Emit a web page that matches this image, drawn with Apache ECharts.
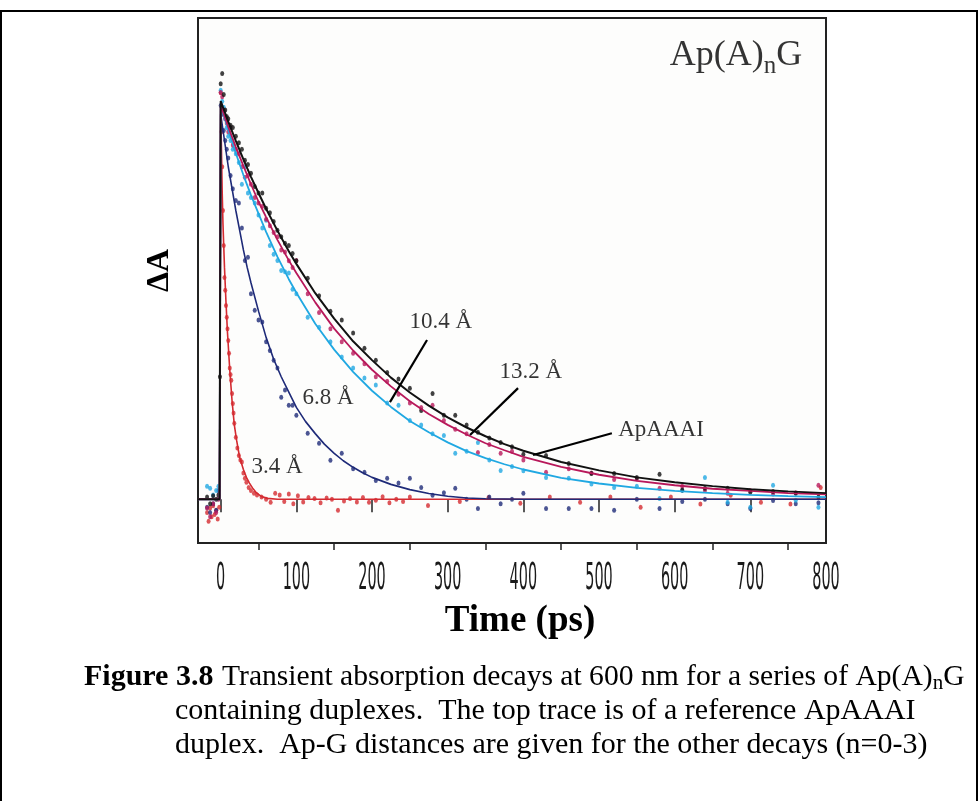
<!DOCTYPE html>
<html><head><meta charset="utf-8">
<script src="https://cdn.jsdelivr.net/npm/echarts@6/dist/echarts.min.js"></script>
<style>html,body{margin:0;padding:0;background:#fff}#c{width:979px;height:801px}</style>
</head><body><div id="c"></div>
<script>
// ---------- data (time in ps, ΔA in relative units) ----------
const xTickLabels = [0,100,200,300,400,500,600,700,800];
const minorTicks = [50,150,250,350,450,550,650,750];

const blackFit = [[-30,0],[-1.5,0],[0,0.91],[10,0.863],[20,0.819],[30,0.777],[40,0.737],[50,0.70],[60,0.664],[75,0.614],[90,0.567],[100,0.538],[125,0.471],[150,0.413],[175,0.361],[200,0.318],[225,0.278],[250,0.244],[275,0.214],[300,0.187],[325,0.164],[350,0.144],[375,0.126],[400,0.111],[450,0.085],[500,0.066],[550,0.050],[600,0.039],[650,0.030],[700,0.023],[750,0.018],[800,0.014]];
const magentaFit = [[-30,0],[-1.5,0],[0,0.90],[10,0.851],[20,0.805],[30,0.762],[40,0.72],[50,0.68],[60,0.645],[75,0.593],[90,0.546],[100,0.517],[125,0.45],[150,0.39],[175,0.34],[200,0.296],[225,0.258],[250,0.224],[275,0.195],[300,0.17],[325,0.148],[350,0.128],[375,0.112],[400,0.097],[450,0.074],[500,0.056],[550,0.042],[600,0.032],[650,0.024],[700,0.019],[750,0.014],[800,0.011]];
const cyanFit = [[-30,0],[-1.5,0],[0,0.90],[10,0.844],[20,0.791],[30,0.741],[40,0.695],[50,0.653],[60,0.611],[75,0.554],[90,0.503],[100,0.472],[125,0.401],[150,0.342],[175,0.291],[200,0.248],[225,0.211],[250,0.179],[275,0.153],[300,0.13],[325,0.11],[350,0.094],[375,0.08],[400,0.068],[450,0.049],[500,0.036],[550,0.026],[600,0.019],[650,0.014],[700,0.01],[750,0.007],[800,0.005]];
const navyFit = [[-30,0],[-1.5,0],[0,0.88],[5,0.82],[10,0.76],[15,0.71],[20,0.66],[25,0.615],[30,0.57],[35,0.53],[40,0.495],[50,0.43],[60,0.37],[70,0.32],[80,0.28],[90,0.245],[100,0.21],[112,0.178],[125,0.15],[137,0.126],[150,0.105],[162,0.088],[175,0.073],[187,0.061],[200,0.05],[225,0.034],[250,0.022],[275,0.013],[300,0.007],[325,0.003],[350,0.001],[400,0],[800,0]];
const redFit = [[-30,0],[-1.5,0],[0,0.90],[1,0.80],[2,0.70],[3,0.63],[4,0.58],[5,0.53],[7,0.45],[9,0.38],[12,0.295],[15,0.225],[18,0.17],[21,0.135],[25,0.096],[30,0.068],[34,0.05],[38,0.037],[42,0.026],[46,0.017],[50,0.011],[54,0.006],[62,0.002],[75,0],[800,0]];

const blackPts = [[-18,0.005],[-14,-0.01],[-10,0.008],[-6,0.0],[-3,0.01],[-1,0.28],[0,0.95],[2,0.973],[4,0.925],[6,0.89],[8,0.875],[10,0.87],[13,0.855],[16,0.85],[20,0.83],[24,0.815],[28,0.80],[32,0.775],[36,0.765],[40,0.745],[45,0.715],[50,0.70],[55,0.70],[60,0.665],[65,0.655],[70,0.635],[75,0.615],[80,0.60],[85,0.585],[90,0.58],[95,0.562],[100,0.545],[115,0.505],[130,0.465],[145,0.43],[160,0.41],[175,0.38],[190,0.345],[205,0.318],[220,0.29],[235,0.275],[250,0.254],[265,0.203],[280,0.242],[295,0.192],[310,0.192],[325,0.17],[340,0.153],[355,0.14],[370,0.13],[385,0.12],[400,0.103],[430,0.10],[460,0.082],[490,0.059],[520,0.059],[550,0.05],[580,0.057],[610,0.021],[640,0.025],[670,0.025],[700,0.016],[730,0.018],[760,0.014],[790,0.005]];
const magentaPts = [[-18,-0.02],[-14,-0.04],[-10,-0.01],[-6,-0.03],[-3,0.0],[0,0.93],[2,0.92],[4,0.89],[6,0.87],[8,0.86],[10,0.84],[13,0.85],[16,0.81],[20,0.80],[24,0.79],[28,0.76],[32,0.736],[36,0.74],[40,0.72],[45,0.69],[50,0.677],[55,0.67],[60,0.64],[65,0.625],[70,0.61],[75,0.60],[80,0.57],[85,0.565],[90,0.545],[95,0.53],[100,0.546],[115,0.47],[130,0.427],[145,0.39],[160,0.36],[175,0.334],[190,0.31],[205,0.28],[220,0.27],[235,0.24],[250,0.22],[265,0.21],[280,0.215],[295,0.18],[310,0.16],[325,0.15],[340,0.107],[355,0.125],[370,0.105],[385,0.11],[400,0.09],[430,0.062],[460,0.07],[490,0.06],[520,0.045],[550,0.047],[580,0.025],[610,0.03],[640,0.02],[670,0.014],[700,0.02],[730,0.012],[760,0.015],[790,0.032]];
const cyanPts = [[-18,0.03],[-14,0.025],[-10,0.01],[-6,0.02],[-3,0.03],[0,0.935],[2,0.91],[4,0.896],[6,0.87],[8,0.85],[10,0.83],[13,0.82],[16,0.80],[20,0.79],[24,0.77],[28,0.72],[32,0.76],[36,0.70],[40,0.69],[45,0.677],[50,0.65],[55,0.62],[60,0.638],[65,0.58],[70,0.56],[75,0.546],[80,0.523],[85,0.52],[90,0.517],[95,0.48],[100,0.47],[115,0.416],[130,0.393],[145,0.36],[160,0.325],[175,0.30],[190,0.277],[205,0.261],[220,0.22],[235,0.215],[250,0.18],[265,0.17],[280,0.15],[295,0.146],[310,0.105],[325,0.11],[340,0.13],[355,0.09],[370,0.066],[385,0.075],[400,0.065],[430,0.05],[460,0.048],[490,0.035],[520,0.027],[550,0.03],[580,0.002],[610,0.02],[640,0.05],[670,-0.007],[700,-0.018],[730,0.032],[760,-0.002],[790,-0.018]];
const navyPts = [[-18,-0.018],[-14,-0.03],[-10,-0.01],[-6,-0.025],[-3,0.02],[0,0.90],[2,0.88],[4,0.843],[6,0.82],[8,0.80],[10,0.78],[13,0.74],[16,0.71],[20,0.683],[24,0.677],[28,0.62],[32,0.546],[36,0.553],[40,0.47],[45,0.432],[50,0.41],[55,0.405],[60,0.36],[65,0.34],[70,0.318],[75,0.30],[80,0.233],[85,0.25],[90,0.215],[95,0.215],[100,0.192],[115,0.151],[130,0.128],[145,0.089],[160,0.105],[175,0.07],[190,0.062],[205,0.043],[220,0.048],[235,0.037],[250,0.048],[265,0.027],[280,0.009],[295,0.015],[310,0.025],[325,0.0],[340,-0.021],[355,0.005],[370,-0.01],[385,0.0],[400,0.014],[430,-0.021],[460,-0.021],[490,-0.021],[520,-0.025],[550,0.0],[580,-0.021],[610,-0.005],[640,0.0],[670,-0.01],[700,-0.021],[730,-0.003],[760,-0.01],[790,-0.008]];
const redPts = [[-18,-0.03],[-16,-0.05],[-14,-0.02],[-12,-0.04],[-10,-0.015],[-8,-0.035],[-6,-0.025],[-4,-0.045],[-2,-0.018],[0,0.93],[1,0.84],[2,0.76],[3,0.66],[4,0.58],[5,0.507],[6,0.478],[7,0.443],[8,0.416],[9,0.39],[10,0.363],[11,0.334],[12,0.30],[13,0.285],[14,0.272],[15,0.242],[16,0.219],[17,0.197],[18,0.174],[20,0.142],[22,0.117],[24,0.10],[26,0.09],[28,0.085],[30,0.06],[32,0.048],[34,0.039],[37,0.027],[40,0.02],[44,0.014],[48,0.01],[54,0.005],[60,0.0],[66,-0.007],[72,0.014],[78,0.01],[84,-0.005],[90,0.012],[96,-0.01],[102,0.008],[109,-0.006],[116,0.004],[124,0.002],[132,-0.008],[140,0.003],[147,0.0],[155,-0.025],[163,-0.004],[171,0.002],[180,-0.006],[188,0.004],[196,-0.007],[205,-0.002],[214,0.006],[223,-0.008],[232,0.0],[241,-0.005],[250,0.005],[274,-0.014],[316,-0.005],[354,0.004],[396,-0.009],[435,0.005],[475,-0.007],[515,0.005],[555,-0.018],[595,0.005],[634,-0.011],[674,0.009],[714,-0.007],[753,-0.011],[793,0.027]];

const annoText = ['10.4 Å','13.2 Å','ApAAAI','6.8 Å','3.4 Å'];
const annoPos = [[291,0.405],[410,0.29],[582,0.158],[141.8,0.231],[74.4,0.073]];
const leaders = [[[272.7,0.364],[223.7,0.222]],[[393,0.254],[329.5,0.147]],[[517,0.151],[412.8,0.101]]];
const titlePos = [681,1.015];

const captionLines = [
  'Transient absorption decays at 600 nm for a series of Ap(A){s|n}G',
  'containing duplexes.  The top trace is of a reference ApAAAI',
  'duplex.  Ap-G distances are given for the other decays (n=0-3)'
];

// ---------- chart ----------
const SERIF = "'Liberation Serif','Times New Roman',serif";
const NARROW = "'Liberation Sans Narrow','DejaVu Sans Condensed',sans-serif";
const chart = echarts.init(document.getElementById('c'));

function fit(data, color, w, z){ return {type:'line', data, symbol:'none', showSymbol:false, silent:true, z, lineStyle:{color, width:w}}; }
function pts(data, color, z){ return {type:'scatter', data, symbol:'circle', symbolSize:[4,5], silent:true, z, itemStyle:{color}}; }

const C = {black:'#111111', magenta:'#b8185a', cyan:'#20a8e2', navy:'#1e2a78', red:'#d42a30'};

chart.setOption({
  animation:false,
  backgroundColor:'#ffffff',
  grid:{left:198, top:18, width:628, height:525, show:true, borderColor:'#222', borderWidth:2, backgroundColor:'#fdfdfc'},
  xAxis:[
    {type:'value', min:-30, max:800, name:'Time (ps)', nameLocation:'middle', nameGap:60,
     nameTextStyle:{fontFamily:SERIF, fontWeight:'bold', fontSize:37, color:'#000', padding:[0,0,0,16]},
     axisLine:{show:false}, splitLine:{show:false}, axisLabel:{show:false},
     axisTick:{show:true, customValues:xTickLabels, length:13, lineStyle:{color:'#222', width:1.5}}},
    {type:'value', min:-30, max:800, position:'bottom',
     axisLine:{show:false}, splitLine:{show:false}, axisLabel:{show:false},
     axisTick:{show:true, customValues:minorTicks, length:7, lineStyle:{color:'#222', width:1.5}}}
  ],
  yAxis:{type:'value', min:-0.1, max:1.1, name:'ΔA', nameLocation:'middle', nameGap:22, nameRotate:90,
     nameTextStyle:{fontFamily:SERIF, fontWeight:'bold', fontSize:32, color:'#000', padding:[0,0,0,20]},
     axisLine:{show:false}, axisTick:{show:false}, axisLabel:{show:false}, splitLine:{show:false}},
  series:[
    pts(redPts, C.red, 2), pts(navyPts, C.navy, 2), pts(cyanPts, C.cyan, 2), pts(magentaPts, C.magenta, 2), pts(blackPts, C.black, 2),
    fit(redFit, C.red, 1.6, 3), fit(navyFit, C.navy, 1.6, 3), fit(cyanFit, C.cyan, 1.8, 3), fit(magentaFit, C.magenta, 1.8, 3), fit(blackFit, C.black, 2, 3),
    {type:'lines', coordinateSystem:'cartesian2d', silent:true, z:5,
     data: leaders.map(l => ({coords:l})), lineStyle:{color:'#000', width:2.2, opacity:1}},
    {type:'scatter', symbolSize:0, silent:true, z:6,
     data: annoText.map((t,i) => ({name:t, value:annoPos[i]})),
     label:{show:true, position:'inside', formatter:p => p.name, fontFamily:SERIF, fontSize:23, color:'#000'}},
    {type:'scatter', symbolSize:0, silent:true, z:6,
     data:[{name:'title', value:titlePos}],
     label:{show:true, position:'inside', formatter:'{a|Ap(A)}{s|n}{a|G}',
       rich:{a:{fontFamily:SERIF, fontSize:36, color:'#000'}, s:{fontFamily:SERIF, fontSize:25, color:'#000', padding:[22,0,0,0]}}}}
  ]
});

const g = [];
g.push({type:'polyline', silent:true, shape:{points:[[1,801],[1,11],[977,11],[977,801]]}, style:{stroke:'#000', lineWidth:2, fill:null}});
xTickLabels.forEach(v => {
  const px = chart.convertToPixel({xAxisIndex:0}, v);
  g.push({type:'text', silent:true, x:px, y:579, scaleY:2.3,
    style:{text:String(v), font:'16px ' + NARROW, fill:'#1a1a1a', align:'center', verticalAlign:'middle'}});
});
g.push({type:'text', silent:true, x:84, y:677, style:{text:'Figure 3.8', fontFamily:SERIF, fontSize:30, fontWeight:'bold', fill:'#000', verticalAlign:'middle'}});
const capX = [222,175,175], capY = [677,711,745];
captionLines.forEach((t,i) => {
  g.push({type:'text', silent:true, x:capX[i], y:capY[i], style:{text:t, fontFamily:SERIF, fontSize:i === 0 ? 29.6 : 30, fill:'#000', verticalAlign:'middle',
    rich:{s:{fontFamily:SERIF, fontSize:21, fill:'#000', padding:[13,0,0,0]}}}});
});
chart.setOption({graphic:g});
</script></body></html>
